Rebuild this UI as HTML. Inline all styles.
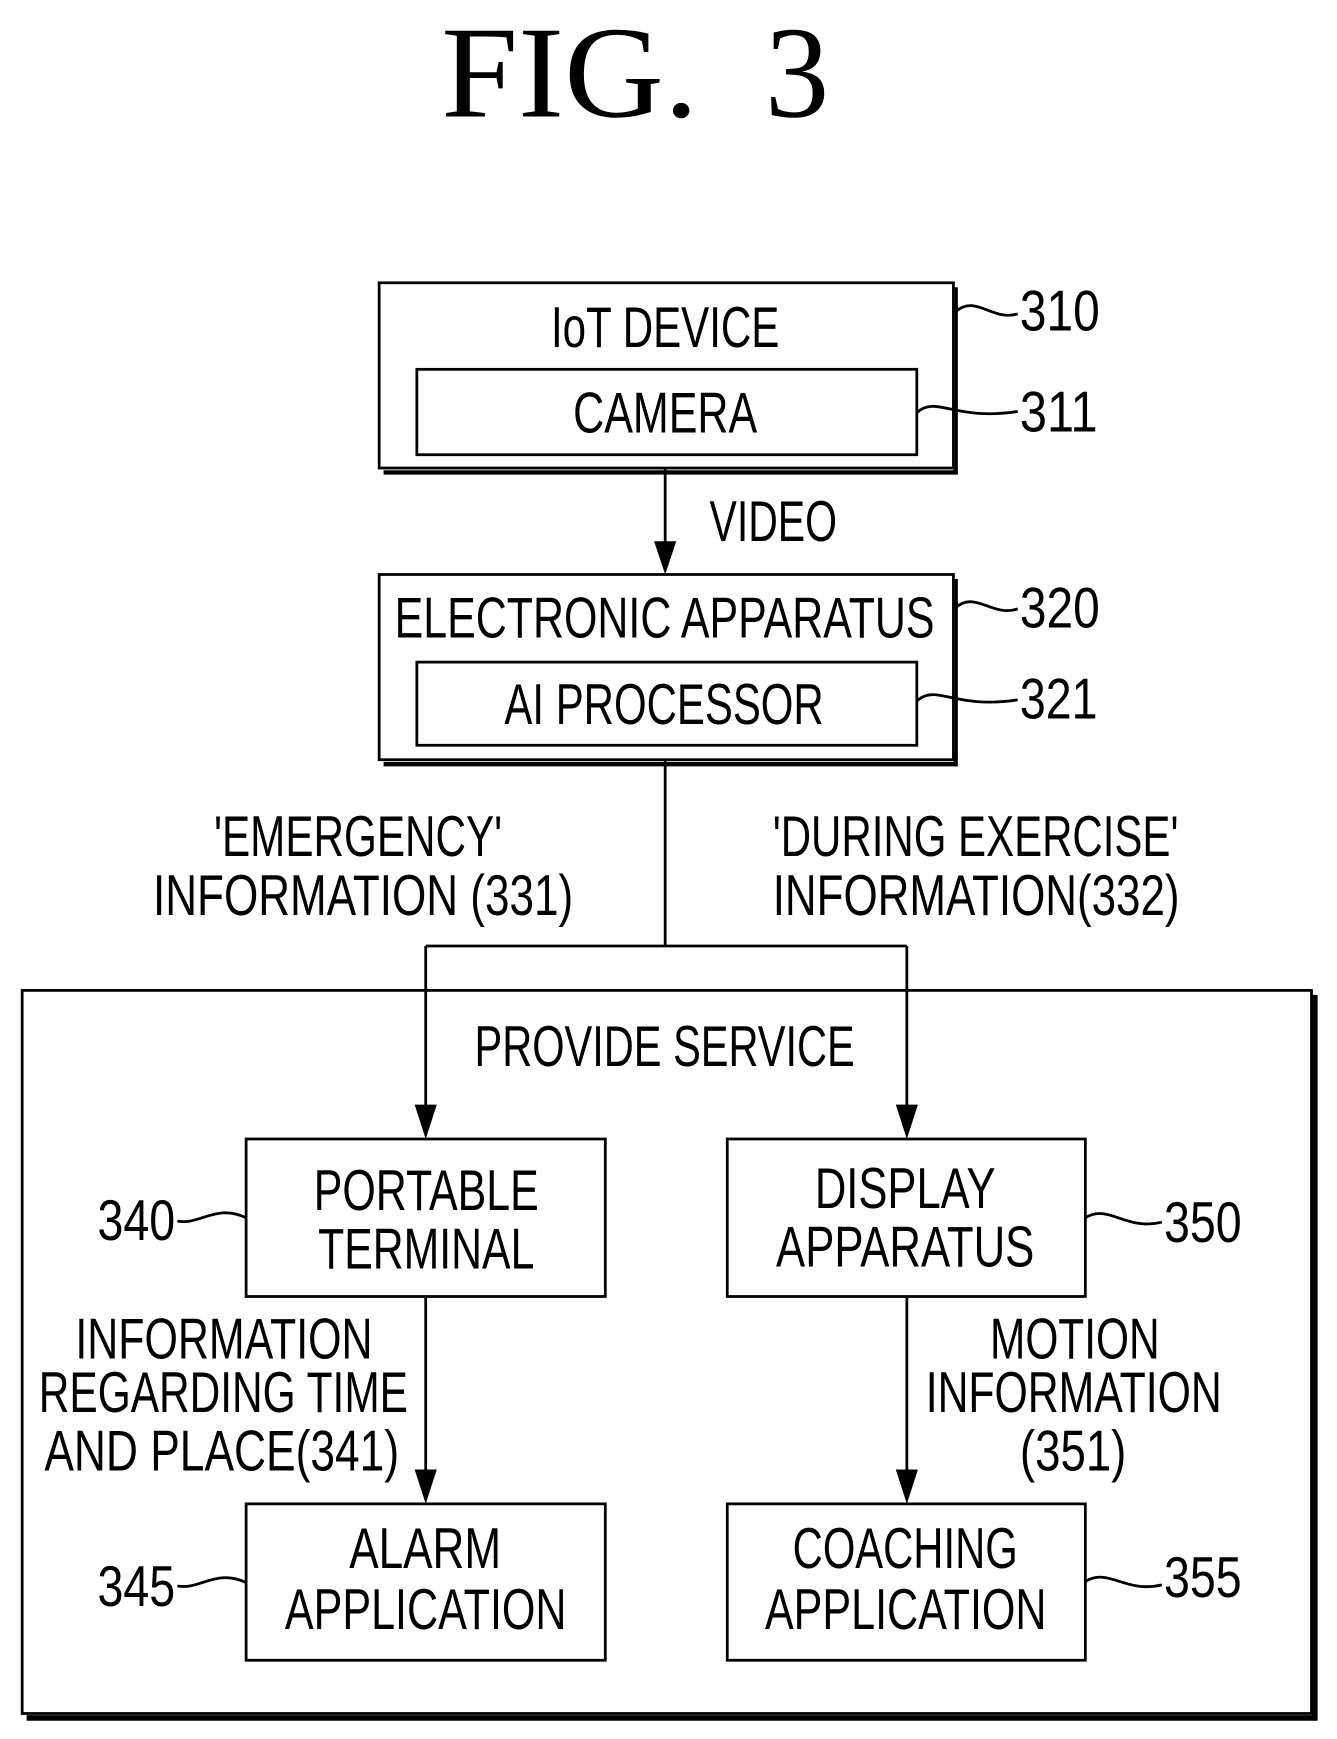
<!DOCTYPE html>
<html><head><style>
html,body{margin:0;padding:0;background:#fff;}
svg{display:block;}
text{font-family:"Liberation Sans",sans-serif;font-size:52px;fill:#000;}
</style></head><body>
<svg width="1337" height="1739" viewBox="0 0 1206 1568" preserveAspectRatio="none" xmlns="http://www.w3.org/2000/svg">
<g fill="none" stroke="#000" stroke-width="2.5">
<path d="M862 259 V426 H346" stroke-width="4"/>
<path d="M862 522 V689 H346" stroke-width="4"/>
<path d="M1186 897 V1549 H24" stroke-width="5"/>
<rect x="342" y="255" width="518" height="167"/>
<rect x="376" y="333" width="451" height="77"/>
<rect x="342" y="518" width="518" height="167"/>
<rect x="376" y="597" width="451" height="75"/>
<rect x="20" y="893" width="1163" height="652"/>
<rect x="222" y="1027" width="324" height="142"/>
<rect x="656" y="1027" width="323" height="142"/>
<rect x="222" y="1356" width="324" height="141"/>
<rect x="656" y="1356" width="323" height="141"/>
<path d="M600 422 V492"/>
<path d="M600 685 V853 M384 853 H818 M384 853 V1000 M818 853 V1000"/>
<path d="M384 1169 V1330 M818 1169 V1330"/>
<path d="M862 281 C880 265 895 290 918 283"/>
<path d="M827 372 C845 356 860 380 918 371"/>
<path d="M862 548 C880 532 895 557 918 549"/>
<path d="M827 632 C845 616 860 640 918 631"/>
<path d="M160 1101 C180 1105 195 1085 222 1098"/>
<path d="M160 1430 C180 1434 195 1414 222 1427"/>
<path d="M979 1098 C1000 1085 1015 1110 1048 1102"/>
<path d="M979 1426 C1000 1413 1015 1437 1048 1429"/>
</g>
<g fill="#000">
<polygon points="590,488 610,488 600,518"/>
<polygon points="374,996 394,996 384,1027"/>
<polygon points="808,996 828,996 818,1027"/>
<polygon points="374,1325 394,1325 384,1356"/>
<polygon points="808,1325 828,1325 818,1356"/>
</g>
<text x="398" y="105" style="font-family:'Liberation Serif',serif;font-size:118px" textLength="232" lengthAdjust="spacingAndGlyphs">FIG.</text>
<text x="690" y="105" style="font-family:'Liberation Serif',serif;font-size:118px" textLength="58" lengthAdjust="spacingAndGlyphs">3</text>
<g>
<text x="497" y="313" textLength="206" lengthAdjust="spacingAndGlyphs">IoT DEVICE</text>
<text x="517" y="390" textLength="166" lengthAdjust="spacingAndGlyphs">CAMERA</text>
<text x="640" y="488" textLength="115" lengthAdjust="spacingAndGlyphs">VIDEO</text>
<text x="356" y="575" textLength="487" lengthAdjust="spacingAndGlyphs">ELECTRONIC APPARATUS</text>
<text x="455" y="653" textLength="288" lengthAdjust="spacingAndGlyphs">AI PROCESSOR</text>
<text x="920" y="298" textLength="72" lengthAdjust="spacingAndGlyphs">310</text>
<text x="920" y="389" textLength="70" lengthAdjust="spacingAndGlyphs">311</text>
<text x="920" y="566" textLength="72" lengthAdjust="spacingAndGlyphs">320</text>
<text x="920" y="648" textLength="70" lengthAdjust="spacingAndGlyphs">321</text>
<text x="193" y="772" textLength="260" lengthAdjust="spacingAndGlyphs">'EMERGENCY'</text>
<text x="138" y="825" textLength="379" lengthAdjust="spacingAndGlyphs">INFORMATION (331)</text>
<text x="697" y="772" textLength="366" lengthAdjust="spacingAndGlyphs">'DURING EXERCISE'</text>
<text x="697" y="825" textLength="367" lengthAdjust="spacingAndGlyphs">INFORMATION(332)</text>
<text x="428" y="961" textLength="343" lengthAdjust="spacingAndGlyphs">PROVIDE SERVICE</text>
<text x="283" y="1091" textLength="203" lengthAdjust="spacingAndGlyphs">PORTABLE</text>
<text x="287" y="1144" textLength="195" lengthAdjust="spacingAndGlyphs">TERMINAL</text>
<text x="735" y="1089" textLength="163" lengthAdjust="spacingAndGlyphs">DISPLAY</text>
<text x="700" y="1142" textLength="233" lengthAdjust="spacingAndGlyphs">APPARATUS</text>
<text x="88" y="1118" textLength="70" lengthAdjust="spacingAndGlyphs">340</text>
<text x="1050" y="1120" textLength="70" lengthAdjust="spacingAndGlyphs">350</text>
<text x="68" y="1225" textLength="268" lengthAdjust="spacingAndGlyphs">INFORMATION</text>
<text x="35" y="1273" textLength="333" lengthAdjust="spacingAndGlyphs">REGARDING TIME</text>
<text x="40" y="1326" textLength="320" lengthAdjust="spacingAndGlyphs">AND PLACE(341)</text>
<text x="893" y="1225" textLength="153" lengthAdjust="spacingAndGlyphs">MOTION</text>
<text x="835" y="1273" textLength="267" lengthAdjust="spacingAndGlyphs">INFORMATION</text>
<text x="920" y="1326" textLength="96" lengthAdjust="spacingAndGlyphs">(351)</text>
<text x="315" y="1414" textLength="137" lengthAdjust="spacingAndGlyphs">ALARM</text>
<text x="257" y="1469" textLength="254" lengthAdjust="spacingAndGlyphs">APPLICATION</text>
<text x="715" y="1414" textLength="203" lengthAdjust="spacingAndGlyphs">COACHING</text>
<text x="690" y="1469" textLength="254" lengthAdjust="spacingAndGlyphs">APPLICATION</text>
<text x="88" y="1448" textLength="70" lengthAdjust="spacingAndGlyphs">345</text>
<text x="1050" y="1440" textLength="70" lengthAdjust="spacingAndGlyphs">355</text>
</g>
</svg>
</body></html>
